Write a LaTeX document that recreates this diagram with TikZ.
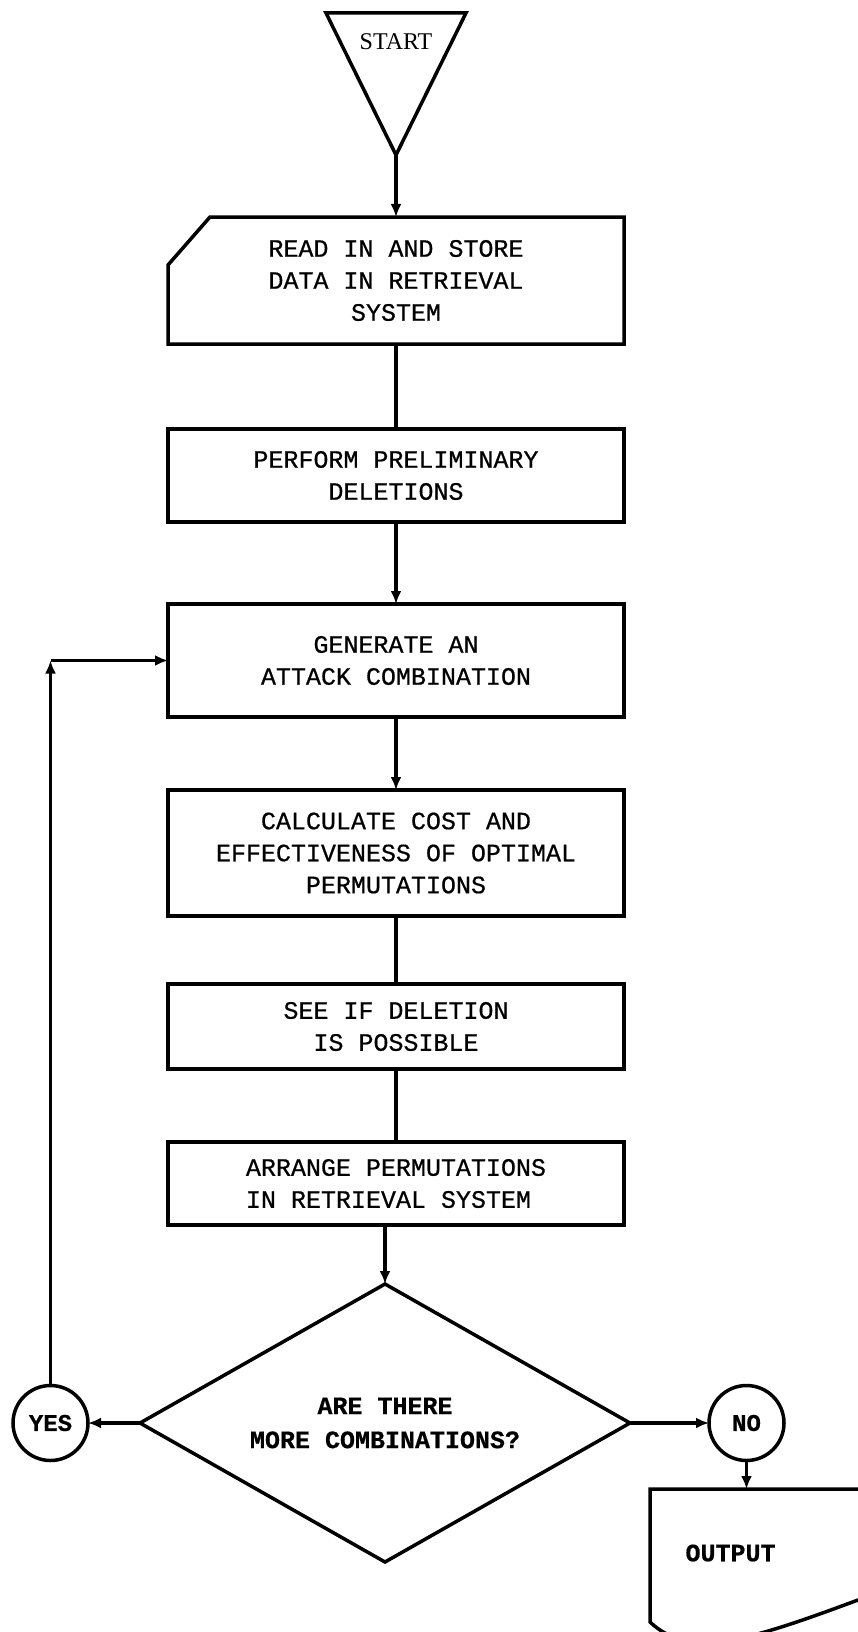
\documentclass[tikz,border=0pt]{standalone}
\usepackage{fontspec}
\newfontfamily\typefont[FakeBold=0.6]{Liberation Mono}
\newfontfamily\titlefont{Liberation Serif}
\usepackage{tikz}
\usetikzlibrary{shapes.geometric, arrows.meta, positioning, calc}
\tikzset{
    process/.style={
        rectangle,
        draw=black,
        line width=3.5pt,
        minimum width=456pt,
        inner sep=0pt,
        outer sep=0pt,
        align=center,
        font=\typefont\fontsize{25}{32}\selectfont
    },
    decision/.style={
        diamond,
        aspect=1.76,
        draw=black,
        line width=3.5pt,
        minimum width=490pt,
        minimum height=278pt,
        inner sep=0pt,
        outer sep=0pt,
        align=center,
        font=\typefont\bfseries\fontsize{25}{34}\selectfont
    },
    connector/.style={
        circle,
        draw=black,
        line width=3.5pt,
        minimum size=75pt,
        inner sep=0pt,
        outer sep=0pt,
        font=\typefont\bfseries\fontsize{24}{28}\selectfont
    },
    wire/.style={
        draw=black,
        line width=3.5pt,
        -{Latex[length=13pt,width=11pt]}
    },
    plainwire/.style={
        draw=black,
        line width=3.5pt
    }
}

\begin{document}
\begin{tikzpicture}[x=1pt, y=-1pt]
\useasboundingbox (0,0) rectangle (858,1632);
\clip (0,0) rectangle (858,1632);

% Start terminal
\node[font=\titlefont\fontsize{24}{28}\selectfont] (start) at (396,42) {START};
\coordinate (tl) at (326,13);
\coordinate (tr) at (466,13);
\coordinate (apex) at (396,155);
\draw[plainwire] (tl) -- (tr) -- (apex) -- cycle;

% Input card (cut corner)
\node[process, draw=none, minimum height=127pt] (read) at (396,280.5) {READ IN AND STORE\\DATA IN RETRIEVAL\\SYSTEM};
\draw[plainwire] (read.south west) -- ($(read.north west)+(0,48)$) -- ($(read.north west)+(42,0)$) -- (read.north east) -- (read.south east) -- cycle;
\draw[wire] (apex) -- (read.north);

% Processing steps
\node[process, below=85pt of read, minimum height=93pt] (perform) {PERFORM PRELIMINARY\\DELETIONS};
\node[process, below=82pt of perform, minimum height=113pt] (gen) {GENERATE AN\\ATTACK COMBINATION};
\node[process, below=73pt of gen, minimum height=126pt] (calc) {CALCULATE COST AND\\EFFECTIVENESS OF OPTIMAL\\PERMUTATIONS};
\node[process, below=68pt of calc, minimum height=85pt] (see) {SEE IF DELETION\\IS POSSIBLE};
\node[process, below=73pt of see, minimum height=83pt, align=left] (arrange) {ARRANGE PERMUTATIONS\\IN RETRIEVAL SYSTEM};

\draw[plainwire] (read) -- (perform);
\draw[wire] (perform) -- (gen);
\draw[wire] (gen) -- (calc);
\draw[plainwire] (calc) -- (see);
\draw[plainwire] (see) -- (arrange);

% Decision
\node[decision, below=59pt of arrange, xshift=-11pt] (dia) {ARE THERE\\MORE COMBINATIONS?};
\draw[wire] (arrange.south -| dia.north) -- (dia.north);

\node[connector, left=52pt of dia] (yes) {YES};
\node[connector, right=79pt of dia] (no) {NO};
\draw[wire] (dia.west) -- (yes);
\draw[wire] (dia.east) -- (no);

% Loop back
\coordinate (back) at (yes.north |- gen.west);
\draw[wire] (yes.north) -- (back);
\draw[wire] (back) -- (gen.west);

% Output document
\coordinate (outnw) at (650,1489);
\draw[plainwire] (900,1489) -- (outnw) -- (650,1622) .. controls (690,1660) and (750,1640) .. (858,1600) -- (900,1585);
\node[font=\typefont\bfseries\fontsize{25}{30}\selectfont, anchor=west] (output) at (682,1553) {OUTPUT};
\draw[wire] (no.south) -- (no.south |- outnw);

\end{tikzpicture}
\end{document}
